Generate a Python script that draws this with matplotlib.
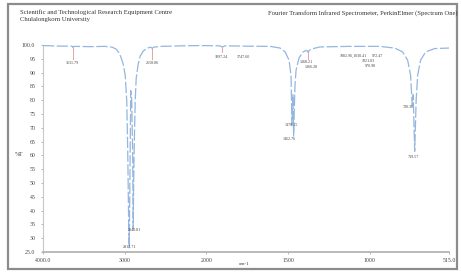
import numpy as np
import matplotlib
matplotlib.use("Agg")
import matplotlib.pyplot as plt
from matplotlib.patches import Rectangle

# ---- data ----
wavenumber = [4000, 3790, 3660, 3640, 3632, 3622, 3424, 3240, 3153, 3104, 3067, 3043,
              3018, 2994, 2975, 2963, 2951, 2945, 2938, 2926, 2914, 2902, 2896, 2890,
              2884, 2871, 2859, 2835, 2810, 2773, 2724, 2680, 2663, 2645, 2565, 2300,
              2076, 1920, 1902, 1885, 1793, 1610, 1549, 1518, 1494, 1482, 1476, 1470,
              1466, 1458, 1451, 1433, 1408, 1390, 1382, 1378, 1372, 1360, 1305, 1122,
              939, 848, 799, 768, 750, 740, 734, 725, 716, 707, 689, 658, 603, 515]
transmittance = [99.8, 99.6, 99.6, 99.5, 99.0, 99.5, 99.4, 99.5, 99.2, 98.5, 97.1, 95.3,
                 93.1, 89.1, 80.0, 62.0, 35.0, 26.5, 45.0, 83.5, 80.0, 60.0, 33.4, 50.0,
                 62.0, 80.0, 88.0, 93.0, 96.0, 97.8, 98.9, 99.2, 98.8, 99.2, 99.5, 99.7,
                 99.8, 99.7, 99.3, 99.7, 99.6, 99.5, 98.9, 97.5, 94.5, 89.0, 71.0, 82.0,
                 67.0, 85.0, 90.9, 95.3, 97.5, 98.0, 97.9, 97.3, 97.9, 98.5, 99.3, 99.5,
                 99.5, 98.9, 97.5, 94.5, 89.0, 78.0, 82.0, 61.5, 80.0, 89.0, 94.5, 97.5,
                 98.7, 98.9]

peak_labels = ["3631.79", "2658.86", "2917.71", "2848.81", "1897.24", "1747.60",
               "1368.21", "1366.28", "1470.55", "1462.76", "1082.96,1030.41", "972.47",
               "1021.03", "970.98", "730.36", "719.57"]
peak_label_wn = [3645, 2666, 2947, 2886, 1911, 1776, 1390, 1360, 1482, 1494, 1100, 950,
                 1011, 993, 766, 735]
peak_label_t = [93.4, 93.4, 26.8, 33.0, 95.6, 95.6, 93.8, 92.0, 70.9, 66.1, 96.0, 96.0,
                94.2, 92.4, 77.4, 59.6]

marker_wn = [3632, 2663, 1902, 1378, 2945]
marker_top = [99.0, 98.8, 99.3, 97.3, 33.0]
marker_bottom = [95.0, 95.0, 97.3, 95.0, 27.5]

xtick_values = [4000, 3000, 2000, 1500, 1000, 515]
xtick_labels = ["4000.0", "3000", "2000", "1500", "1000", "515.0"]
ytick_values = [25, 30, 35, 40, 45, 50, 55, 60, 65, 70, 75, 80, 85, 90, 95, 100]
ytick_labels = ["25.0", "30", "35", "40", "45", "50", "55", "60", "65", "70", "75",
                "80", "85", "90", "95", "100.0"]

# ---- figure ----
W, H = 461, 273
fig = plt.figure(figsize=(W / 100, H / 100), dpi=100)
fig.patch.set_facecolor("white")
plt.rcParams["font.family"] = ["Liberation Serif", "DejaVu Serif"]

left_px, right_px, top_px, bottom_px = 43, 449, 45, 252
ax = fig.add_axes([left_px / W, 1 - bottom_px / H, (right_px - left_px) / W,
                   (bottom_px - top_px) / H])
ax.set_facecolor("none")


def fwd(x):
    x = np.asarray(x, dtype=float)
    return np.where(x > 2000, 2000 + (x - 2000) / 2.0, x)


def inv(y):
    y = np.asarray(y, dtype=float)
    return np.where(y > 2000, 2000 + (y - 2000) * 2.0, y)


ax.set_xscale("function", functions=(fwd, inv))
ax.set_xlim(4000, 515)
ax.set_ylim(25, 100)

ax.plot(wavenumber, transmittance, color="#94b6df", lw=0.9,
        dashes=(9, 2), solid_capstyle="butt", zorder=3)

for w, t1, t2 in zip(marker_wn, marker_top, marker_bottom):
    ax.plot([w, w], [t2, t1], color="#e9a3a3", lw=0.7, zorder=2)

for txt, w, t in zip(peak_labels, peak_label_wn, peak_label_t):
    ax.text(w, t, txt, fontsize=3.0, color="#444444", ha="center", va="center",
            zorder=4)

for s in ["top", "right"]:
    ax.spines[s].set_visible(False)
ax.spines["bottom"].set_color("#b4b4b4")
ax.spines["bottom"].set_linewidth(1.3)
ax.spines["left"].set_color("#c8c8c8")
ax.spines["left"].set_linewidth(0.8)
ax.spines["left"].set_bounds(25, 100)

ax.set_xticks(xtick_values)
ax.set_xticklabels(xtick_labels)
ax.set_yticks(ytick_values)
ax.set_yticklabels(ytick_labels)
ax.xaxis.set_minor_locator(matplotlib.ticker.NullLocator())
ax.tick_params(axis="x", length=1.5, width=0.5, color="#999999", pad=2.5,
               labelsize=4.2, labelcolor="#444444")
ax.tick_params(axis="y", length=1.5, width=0.5, color="#999999", pad=4,
               labelsize=4.2, labelcolor="#444444")

# axis titles
fig.text(19 / W, 1 - 154 / H, "%T", fontsize=4.2, color="#444444",
         ha="center", va="center")
fig.text(244 / W, 1 - 264 / H, "cm-1", fontsize=3.8, color="#444444",
         ha="center", va="center")

# header
fig.text(20 / W, 1 - 12 / H, "Scientific and Technological Research Equipment Centre",
         fontsize=4.8, color="#333333", ha="left", va="center")
fig.text(20 / W, 1 - 19 / H, "Chulalongkorn University",
         fontsize=4.8, color="#333333", ha="left", va="center")
fig.text(268 / W, 1 - 13 / H,
         "Fourier Transform Infrared Spectrometer, PerkinElmer (Spectrum One)",
         fontsize=4.8, color="#333333", ha="left", va="center")

# scanned page frame
fig.patches.append(Rectangle((8 / W, 1 - 269 / H), (457 - 8) / W, (269 - 4) / H,
                             transform=fig.transFigure, fill=False,
                             edgecolor="#8c8c8c", linewidth=1.6))

fig.savefig("out.png", dpi=100)
